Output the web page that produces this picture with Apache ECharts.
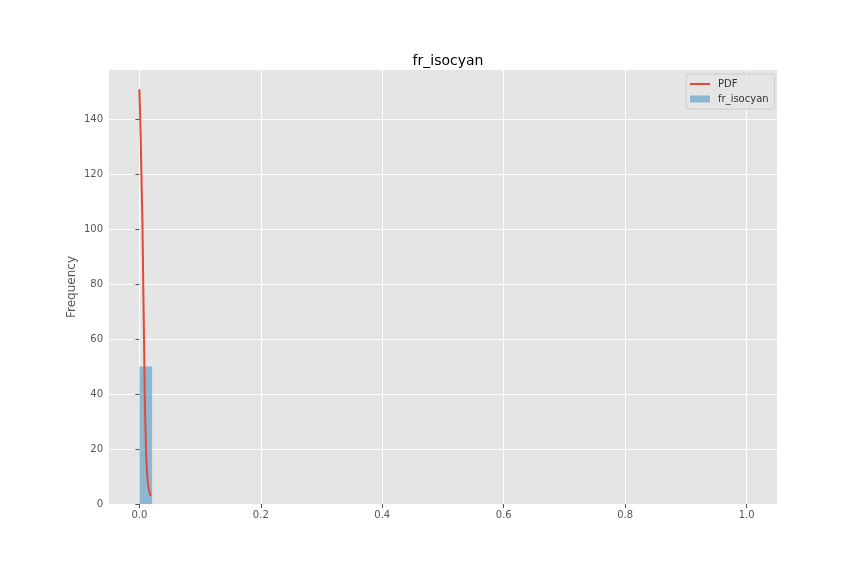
<!DOCTYPE html>
<html>
<head>
<meta charset="utf-8">
<script src="https://cdn.jsdelivr.net/npm/echarts@6/dist/echarts.min.js"></script>
<style>html,body{margin:0;padding:0;background:#fff}#c{width:864px;height:576px}</style>
</head>
<body>
<div id="c"></div>
<script>
const titleText = 'fr_isocyan';
const yAxisName = 'Frequency';
const binStart = [0.0];
const binEnd = [0.021];
const binCount = [50];
const pdfX = [0.0, 0.002, 0.004, 0.005, 0.0065, 0.008, 0.009, 0.0105, 0.012, 0.014, 0.016, 0.0185];
const pdfY = [150.8, 135, 113, 103, 78, 55, 38, 24, 14, 8, 5, 2.9];
const xTicks = [0.0, 0.2, 0.4, 0.6, 0.8, 1.0];
const yTicks = [0, 20, 40, 60, 80, 100, 120, 140];

const chart = echarts.init(document.getElementById('c'));
const histData = binStart.map((s, i) => [s, binEnd[i], binCount[i]]);
const lineData = pdfX.map((x, i) => [x, pdfY[i]]);

chart.setOption({
  animation: false,
  backgroundColor: '#ffffff',
  title: {
    text: titleText, left: 443, top: 49, textAlign: 'center',
    textStyle: {fontFamily: 'DejaVu Sans', fontSize: 14, fontWeight: 'normal', color: '#000'}
  },
  grid: {left: 109, right: 87, top: 70, bottom: 72, show: true, backgroundColor: '#E5E5E5', borderWidth: 0},
  xAxis: {
    type: 'value', min: -0.05, max: 1.05,
    axisLine: {show: false},
    axisTick: {show: true, customValues: xTicks, length: 4, lineStyle: {color: '#555'}},
    axisLabel: {customValues: xTicks, formatter: v => v.toFixed(1), color: '#555', fontFamily: 'DejaVu Sans', fontSize: 10, margin: 6},
    splitLine: {show: true, lineStyle: {color: '#ffffff', width: 1}}
  },
  yAxis: {
    type: 'value', min: 0, max: 157.8,
    name: yAxisName, nameLocation: 'middle', nameGap: 31, nameMoveOverlap: false,
    nameTextStyle: {color: '#555', fontFamily: 'DejaVu Sans', fontSize: 12},
    axisLine: {show: false},
    axisTick: {show: true, customValues: yTicks, length: 4, lineStyle: {color: '#555'}},
    axisLabel: {customValues: yTicks, color: '#555', fontFamily: 'DejaVu Sans', fontSize: 10, margin: 6},
    splitLine: {show: true, lineStyle: {color: '#ffffff', width: 1}}
  },
  legend: {
    orient: 'vertical', left: 686, top: 74,
    padding: [5, 6, 5, 4], itemGap: 5, itemWidth: 20, itemHeight: 7,
    backgroundColor: 'rgba(229,229,229,0.8)', borderColor: '#cccccc', borderWidth: 1, borderRadius: 3,
    textStyle: {fontFamily: 'DejaVu Sans', fontSize: 10, color: '#333', padding: [0, 0, 0, 3]},
    data: [
      {name: 'PDF', icon: 'path://M0,0 L20,0 L20,2 L0,2 Z', itemStyle: {color: '#E24A33'}},
      {name: 'fr_isocyan', icon: 'rect', itemStyle: {color: 'rgba(52,138,189,0.5)'}}
    ]
  },
  series: [
    {
      name: 'fr_isocyan', type: 'custom', z: 2,
      renderItem: function (params, api) {
        const p0 = api.coord([api.value(0), api.value(2)]);
        const p1 = api.coord([api.value(1), 0]);
        return {type: 'rect', shape: {x: p0[0], y: p0[1], width: p1[0] - p0[0], height: p1[1] - p0[1]},
          style: {fill: 'rgba(52,138,189,0.5)'}};
      },
      encode: {x: [0, 1], y: 2},
      data: histData
    },
    {
      name: 'PDF', type: 'line', z: 3, smooth: 0.3, showSymbol: false, symbol: 'none',
      lineStyle: {color: '#E24A33', width: 2}, itemStyle: {color: '#E24A33'},
      data: lineData
    }
  ]
});
</script>
</body>
</html>
